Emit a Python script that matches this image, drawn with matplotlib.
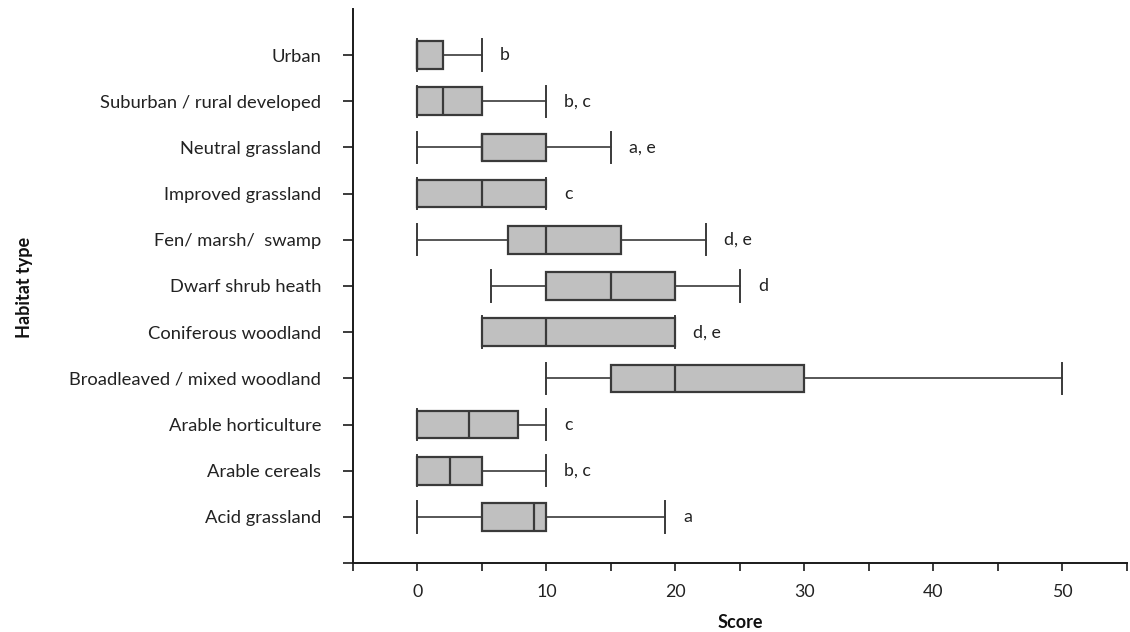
import matplotlib
matplotlib.use("Agg")
import matplotlib.pyplot as plt

# Data (bottom to top)
categories = ["Acid grassland", "Arable cereals", "Arable horticulture",
              "Broadleaved / mixed woodland", "Coniferous woodland",
              "Dwarf shrub heath", "Fen/ marsh/  swamp", "Improved grassland",
              "Neutral grassland", "Suburban / rural developed", "Urban"]
whisker_low = [0, 0, 0, 10, 5, 5.7, 0, 0, 0, 0, 0]
q1 = [5, 0, 0, 15, 5, 10, 7, 0, 5, 0, 0]
medians = [9, 2.5, 4, 20, 10, 15, 10, 5, 5, 2, 0]
q3 = [10, 5, 7.8, 30, 20, 20, 15.8, 10, 10, 5, 2]
whisker_high = [19.2, 10, 10, 50, 20, 25, 22.4, 10, 15, 10, 5]
letters = ["a", "b, c", "c", "", "d, e", "d", "d, e", "c", "a, e", "b, c", "b"]
xtick_labels = ["", "0", "", "10", "", "20", "", "30", "", "40", "", "50", ""]

font = "Lato"
plt.rcParams['font.family'] = [font, 'DejaVu Sans']

fig = plt.figure(figsize=(11.3, 6.32), dpi=100)
ax = fig.add_axes([0.3124, 0.109, 0.997 - 0.3124, 0.986 - 0.109])

positions = list(range(1, len(categories) + 1))
stats = []
for i, c in enumerate(categories):
    stats.append(dict(label=c, whislo=whisker_low[i], q1=q1[i], med=medians[i],
                      q3=q3[i], whishi=whisker_high[i], fliers=[]))

edge = "#3a3a3a"
txt = "#222222"
ax.bxp(stats, positions=positions, orientation='horizontal', widths=0.6,
       patch_artist=True, showfliers=False,
       boxprops=dict(facecolor="#c0c0c0", edgecolor=edge, linewidth=1.6),
       medianprops=dict(color=edge, linewidth=1.6),
       whiskerprops=dict(color=edge, linewidth=1.2),
       capprops=dict(color=edge, linewidth=1.4),
       capwidths=0.68)

for i, t in enumerate(letters):
    if t:
        ax.annotate(t, xy=(whisker_high[i], positions[i]), xytext=(13, 0),
                    textcoords='offset points', ha='left', va='center',
                    fontsize=12.8, color=txt)

ax.set_xlim(-5, 55)
ax.set_ylim(0, 12)
ax.set_xticks(list(range(-5, 60, 5)))
ax.set_xticklabels(xtick_labels)
ax.set_yticks([0] + positions)
ax.set_yticklabels([""] + categories)

for s in ["top", "right"]:
    ax.spines[s].set_visible(False)
for s in ["left", "bottom"]:
    ax.spines[s].set_linewidth(1.4)
    ax.spines[s].set_color("#1a1a1a")

ax.tick_params(axis='y', length=7, width=1.2, pad=16, labelsize=13.2, colors="#1a1a1a",
               labelcolor=txt)
ax.tick_params(axis='x', length=6, width=1.2, pad=9, labelsize=12.8, colors="#1a1a1a",
               labelcolor=txt)

ax.set_xlabel("Score", fontsize=13, fontweight='bold', labelpad=10, color="#111111")
fig.text(0.022, 0.545, "Habitat type", rotation=90, fontsize=13, fontweight='bold',
         ha='center', va='center', color="#111111")

fig.savefig("out.png", dpi=100)
